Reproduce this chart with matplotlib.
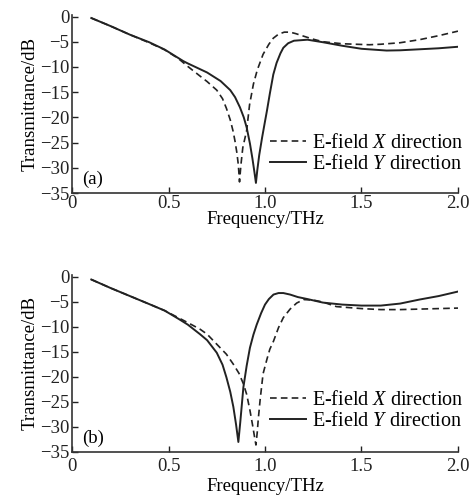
import matplotlib
matplotlib.use("Agg")
import matplotlib.pyplot as plt

plt.rcParams['font.family'] = ['Liberation Serif', 'DejaVu Serif']
plt.rcParams['mathtext.fontset'] = 'custom'
plt.rcParams['mathtext.rm'] = 'Liberation Serif'
plt.rcParams['mathtext.it'] = 'Liberation Serif:italic'
plt.rcParams['font.size'] = 13.5

# Panel (a)
a_x_freq = [0.1, 0.2, 0.3, 0.4, 0.48, 0.55, 0.6, 0.663, 0.7, 0.75, 0.78, 0.8, 0.82, 0.835,
            0.845, 0.855, 0.862, 0.868, 0.875, 0.885, 0.905, 0.92, 0.94, 0.96, 0.99,
            1.02, 1.043, 1.07, 1.1, 1.13, 1.16, 1.2, 1.25, 1.3, 1.4, 1.54, 1.6, 1.7,
            1.8, 1.9, 2.0]
a_x_db = [-0.3, -1.9, -3.6, -5.2, -6.6, -8.3, -9.9, -11.8, -12.9, -14.6, -16.3, -18.2, -20.5, -22.8,
          -24.8, -27.2, -29.5, -32.8, -29.5, -26.0, -22.6, -17.5, -13.4, -10.6, -7.5,
          -5.5, -4.3, -3.5, -3.1, -3.1, -3.4, -3.9, -4.5, -5.0, -5.4, -5.6, -5.5, -5.2,
          -4.6, -3.8, -2.9]
a_y_freq = [0.1, 0.2, 0.3, 0.4, 0.48, 0.577, 0.6, 0.65, 0.7, 0.77, 0.82, 0.845, 0.87, 0.89,
            0.905, 0.922, 0.935, 0.945, 0.953, 0.96, 0.97, 0.985, 1.0, 1.01, 1.025,
            1.043, 1.06, 1.08, 1.095, 1.12, 1.15, 1.22, 1.3, 1.4, 1.5, 1.63, 1.7,
            1.8, 1.9, 2.0]
a_y_db = [-0.3, -1.9, -3.6, -5.1, -6.55, -8.85, -9.3, -10.2, -11.1, -12.8, -14.6, -16.0, -18.0, -20.0,
          -22.0, -25.2, -28.2, -30.8, -33.0, -30.5, -27.5, -24.0, -20.8, -18.7, -15.3,
          -11.5, -9.2, -7.3, -6.2, -5.3, -4.8, -4.6, -5.1, -5.8, -6.4, -6.75, -6.7,
          -6.5, -6.3, -6.0]

# Panel (b)
b_x_freq = [0.1, 0.2, 0.3, 0.4, 0.48, 0.55, 0.6, 0.663, 0.7, 0.75, 0.8, 0.836, 0.865, 0.888,
            0.905, 0.922, 0.935, 0.945, 0.953, 0.96, 0.965, 0.975, 0.99, 1.01, 1.025,
            1.044, 1.07, 1.095, 1.13, 1.164, 1.2, 1.25, 1.3, 1.37, 1.5, 1.6, 1.7,
            1.8, 1.9, 2.0]
b_x_db = [-0.6, -2.3, -3.9, -5.5, -6.8, -8.2, -9.2, -10.5, -11.5, -13.5, -15.5, -17.5, -19.3, -21.4,
          -23.5, -26.7, -29.5, -31.8, -33.6, -31.0, -28.5, -24.5, -19.4, -16.5, -14.5,
          -12.9, -10.2, -8.2, -6.5, -5.3, -4.6, -4.7, -5.1, -6.0, -6.4, -6.6, -6.6,
          -6.5, -6.4, -6.3]
b_y_freq = [0.1, 0.2, 0.3, 0.4, 0.48, 0.55, 0.6, 0.663, 0.7, 0.75, 0.78, 0.8, 0.82, 0.836,
            0.85, 0.862, 0.872, 0.888, 0.905, 0.922, 0.94, 0.957, 0.98, 1.0, 1.02,
            1.044, 1.07, 1.095, 1.13, 1.17, 1.22, 1.3, 1.4, 1.5, 1.6, 1.7, 1.8,
            1.9, 2.0]
b_y_db = [-0.6, -2.3, -3.9, -5.5, -6.8, -8.4, -9.6, -11.5, -12.7, -15.2, -17.6, -20.1, -23.0, -26.0,
          -29.5, -33.0, -29.0, -22.1, -17.8, -14.2, -11.6, -9.6, -7.3, -5.6, -4.5,
          -3.6, -3.3, -3.3, -3.6, -4.1, -4.5, -5.2, -5.6, -5.8, -5.8, -5.4, -4.6,
          -3.9, -3.0]

x_ticks = [0, 0.5, 1.0, 1.5, 2.0]
x_tick_labels = ['0', '0.5', '1.0', '1.5', '2.0']
y_ticks = [0, -5, -10, -15, -20, -25, -30, -35]
y_tick_labels = ['0', '\u22125', '\u221210', '\u221215', '\u221220', '\u221225', '\u221230', '\u221235']

fig = plt.figure(figsize=(4.75, 4.95), dpi=100)
ax_a = fig.add_axes([72/475, 1 - 193/495, (458-72)/475, (193-15)/495])
ax_b = fig.add_axes([72/475, 1 - 452/495, (458-72)/475, (452-275)/495])

panels = [
    (ax_a, a_x_freq, a_x_db, a_y_freq, a_y_db, '(a)', 1.5, -1, 0.06),
    (ax_b, b_x_freq, b_x_db, b_y_freq, b_y_db, '(b)', 4.5, 2, 0.075),
]
for ax, xf, xd, yf, yd, tag, xpad, xlpad, legy in panels:
    ax.plot(xf, xd, color='#222222', lw=1.2, ls=(0, (4, 2.5)), label='E-field $X$ direction')
    ax.plot(yf, yd, color='#222222', lw=1.4, ls='-', label='E-field $Y$ direction')
    ax.set_xlim(0, 2.0)
    ax.set_ylim(-35, 0.3)
    ax.set_xticks(x_ticks)
    ax.set_xticklabels(x_tick_labels)
    ax.set_yticks(y_ticks)
    ax.set_yticklabels(y_tick_labels)
    ax.tick_params(direction='in', length=4, width=1, colors='#222222', pad=2)
    ax.tick_params(axis='x', pad=xpad)
    for s in ['top', 'right']:
        ax.spines[s].set_visible(False)
    for s in ['left', 'bottom']:
        ax.spines[s].set_linewidth(1.2)
        ax.spines[s].set_color('#333333')
    ax.set_xlabel('Frequency/THz', labelpad=xlpad)
    ax.set_ylabel('Transmittance/dB', labelpad=1)
    ax.text(0.025, 0.03, tag, transform=ax.transAxes, ha='left', va='bottom')
    ax.legend(loc='lower right', bbox_to_anchor=(1.035, legy), frameon=False, fontsize=14.5,
              handlelength=1.8, handletextpad=0.3, labelspacing=0.1, borderaxespad=0)

fig.savefig('out.png', dpi=100)
